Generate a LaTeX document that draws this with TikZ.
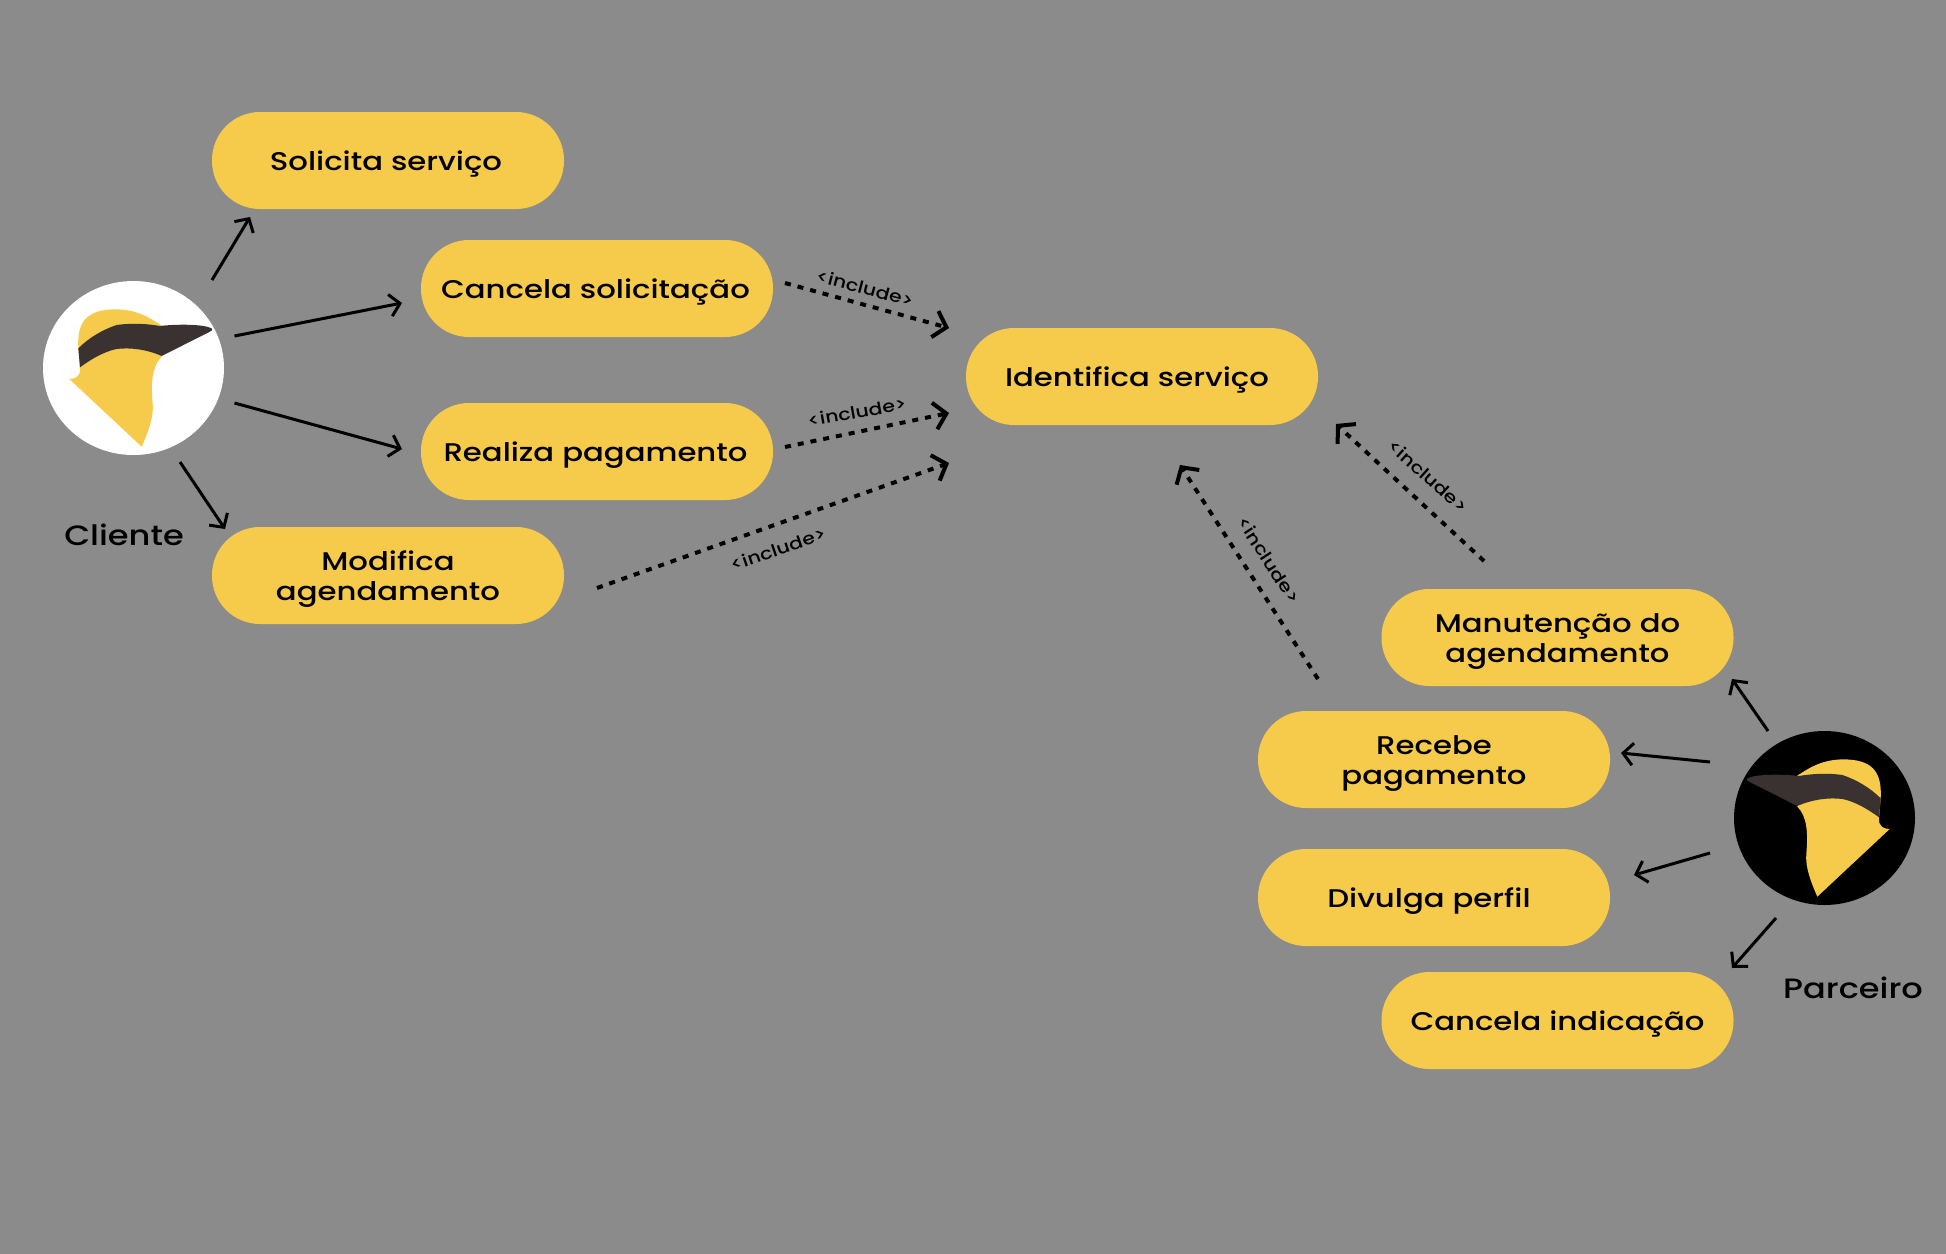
\documentclass[tikz,border=0pt]{standalone}
\usepackage{fontspec}
\usetikzlibrary{arrows.meta,shapes.geometric}
\newfontfamily\labfont[FakeStretch=1.2]{Poppins Medium}
\definecolor{bggray}{HTML}{8B8B8B}
\definecolor{pill}{HTML}{F6CA4A}
\definecolor{beak}{HTML}{3A3230}
\tikzset{
  x=1pt,y=-1pt,
  usecase/.style={draw=none,fill=pill,rounded corners=48pt,minimum width=352pt,minimum height=97pt,inner sep=0pt,align=center,
    font=\labfont\fontsize{25.6}{30}\selectfont,text height=19pt,text depth=0pt},
  usecasetwo/.style={usecase,text height=49pt,text depth=0pt},
  actordisc/.style={ellipse,draw=none,inner sep=0pt,minimum width=181pt,minimum height=174pt},
  actorname/.style={font=\labfont\fontsize{28}{30}\selectfont,inner sep=0pt},
  inclabel/.style={font=\labfont\fontsize{17}{19}\selectfont,inner sep=0pt},
  assoc/.style={draw=black,line width=3pt,-{Straight Barb[length=10pt,width=22pt,line width=3pt]}},
  incl/.style={draw=black,line width=4pt,dash pattern=on 6pt off 7pt,-{Straight Barb[length=12pt,width=27pt,line width=4pt]}},
}
\newcommand{\birdshapes}{%
  \fill[pill] (148,357) -- (365,560) .. controls (385,515) and (402,470) .. (398,430)
    .. controls (393,370) and (395,320) .. (425,290) -- (425,197)
    .. controls (385,170) and (350,150) .. (290,148)
    .. controls (205,148) and (170,180) .. (175,265)
    -- (180,325) .. controls (182,350) and (165,357) .. (148,357) -- cycle;
  \fill[beak] (175,265) .. controls (205,235) and (245,210) .. (290,195)
    .. controls (340,188) and (385,192) .. (420,198)
    .. controls (470,192) and (550,192) .. (575,205)
    .. controls (580,210) and (575,213) .. (568,216)
    -- (425,288) .. controls (380,268) and (330,262) .. (290,267)
    .. controls (250,275) and (210,300) .. (180,322) -- cycle;
}
\begin{document}
\begin{tikzpicture}
\useasboundingbox (0,0) rectangle (1946,1253);
\fill[bggray] (-2,-2) rectangle (1948,1255);

% actors
\node[actordisc,fill=white] (clientedisc) at (133.5,368) {};
\begin{scope}[x=0.3333pt,y=-0.3333pt,shift={(20pt,-260pt)}]
  \birdshapes
\end{scope}
\node[actordisc,fill=black] (parceirodisc) at (1824.5,818) {};
\begin{scope}[x=-0.3333pt,y=-0.3333pt,shift={(1939pt,-710pt)}]
  \birdshapes
\end{scope}
\node[actorname] (cliente) at (124,535) {Cliente};
\node[actorname] (parceiro) at (1853,988) {Parceiro};

% use cases
\node[usecase] (solicita) at (388,160.5) {\hspace*{-4pt}Solicita serviço};
\node[usecase] (cancelasol) at (597,288.5) {\hspace*{-3pt}Cancela solicitação};
\node[usecase] (realiza) at (597,451.5) {\hspace*{-3pt}Realiza pagamento};
\node[usecasetwo] (modifica) at (388,575.5) {Modifica\\agendamento};
\node[usecase] (identifica) at (1142,376.5) {\hspace*{-10pt}Identifica serviço};
\node[usecasetwo] (manutencao) at (1557.5,637.5) {Manutenção do\\agendamento};
\node[usecasetwo] (recebe) at (1434,759.5) {Recebe\\pagamento};
\node[usecase] (divulga) at (1434,897.5) {\hspace*{-10pt}Divulga perfil};
\node[usecase] (cancelaind) at (1557.5,1020.5) {Cancela indicação};

% connector ends
\coordinate (a1) at (212,280); \coordinate (b1) at (250,217);
\coordinate (a2) at (234.5,336); \coordinate (b2) at (402,303);
\coordinate (a3) at (234.5,403); \coordinate (b3) at (402,449);
\coordinate (a4) at (180,462); \coordinate (b4) at (225,529);
\coordinate (a5) at (785,283); \coordinate (b5) at (949,328);
\coordinate (a6) at (785,447); \coordinate (b6) at (949,413);
\coordinate (a7) at (597,588); \coordinate (b7) at (949,463);
\coordinate (a8) at (1484,561); \coordinate (b8) at (1336,424);
\coordinate (a9) at (1318,679); \coordinate (b9) at (1180,465);
\coordinate (a10) at (1768,731); \coordinate (b10) at (1732,679);
\coordinate (a11) at (1710,762); \coordinate (b11) at (1621,753);
\coordinate (a12) at (1710,853); \coordinate (b12) at (1634,875);
\coordinate (a13) at (1776,918); \coordinate (b13) at (1732,968);

\draw[assoc] (a1) -- (b1);
\draw[assoc] (a2) -- (b2);
\draw[assoc] (a3) -- (b3);
\draw[assoc] (a4) -- (b4);
\draw[assoc] (a10) -- (b10);
\draw[assoc] (a11) -- (b11);
\draw[assoc] (a12) -- (b12);
\draw[assoc] (a13) -- (b13);
\draw[incl] (a5) -- (b5);
\draw[incl] (a6) -- (b6);
\draw[incl] (a7) -- (b7);
\draw[incl] (a8) -- (b8);
\draw[incl] (a9) -- (b9);

\node[inclabel,rotate=-15] (inc1) at (865,288) {<include>};
\node[inclabel,rotate=10] (inc2) at (857,412) {<include>};
\node[inclabel,rotate=19] (inc3) at (778,549) {<include>};
\node[inclabel,rotate=-42] (inc4) at (1428,476) {<include>};
\node[inclabel,rotate=-57] (inc5) at (1269,560) {<include>};
\end{tikzpicture}
\end{document}
